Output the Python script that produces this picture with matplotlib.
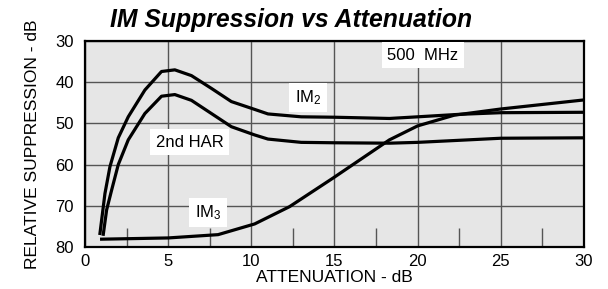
import numpy as np
import matplotlib
matplotlib.use("Agg")
import matplotlib.pyplot as plt
from matplotlib.ticker import MultipleLocator

plt.rcParams["font.family"] = ["Liberation Sans", "DejaVu Sans"]
plt.rcParams["mathtext.fontset"] = "custom"
plt.rcParams["mathtext.rm"] = "Liberation Sans"
plt.rcParams["mathtext.it"] = "Liberation Sans:italic"

# Data (attenuation in dB, suppression in dB)
im2_x = [0.9, 1.2, 1.5, 2.0, 2.6, 3.6, 4.6, 5.4, 6.4, 7.6, 8.8, 10.2, 11.0, 13.0, 15.0, 18.3, 20.0, 22.5, 25.0, 30.0]
im2_y = [76.7, 67.0, 60.5, 53.5, 48.4, 41.9, 37.4, 37.0, 38.4, 41.5, 44.7, 46.6, 47.7, 48.4, 48.5, 48.8, 48.4, 47.8, 47.4, 47.3]

har_x = [1.1, 1.3, 1.6, 2.0, 2.6, 3.6, 4.6, 5.4, 6.4, 7.6, 8.8, 10.2, 11.0, 13.0, 15.0, 18.3, 20.0, 25.0, 30.0]
har_y = [76.9, 71.0, 66.2, 60.0, 54.0, 47.6, 43.4, 43.0, 44.4, 47.6, 50.8, 52.8, 53.8, 54.6, 54.7, 54.8, 54.6, 53.6, 53.5]

im3_x = [1.0, 5.0, 8.0, 10.2, 12.3, 14.9, 18.3, 20.0, 22.2, 25.0, 30.0]
im3_y = [78.1, 77.8, 77.0, 74.4, 70.2, 63.3, 54.0, 50.6, 48.0, 46.5, 44.3]

x_ticks = [0, 5, 10, 15, 20, 25, 30]
y_ticks = [30, 40, 50, 60, 70, 80]

fig = plt.figure(figsize=(6.08, 2.89), dpi=100)
ax = fig.add_axes([0.1398, 0.1453, 0.8207, 0.7128])
ax.set_facecolor("#e6e6e6")

for xs, ys in [(im2_x, im2_y), (har_x, har_y), (im3_x, im3_y)]:
    ax.plot(xs, ys, color="black", lw=2.3, solid_joinstyle="round", zorder=3)

ax.set_xlim(0, 30)
ax.set_ylim(80, 30)
ax.set_xticks(x_ticks)
ax.set_yticks(y_ticks)
ax.xaxis.set_minor_locator(MultipleLocator(2.5))
ax.tick_params(axis="both", which="major", length=0, labelsize=12)
ax.tick_params(axis="x", which="major", pad=5)
ax.tick_params(axis="y", which="major", pad=8)
ax.tick_params(axis="x", which="minor", direction="in", length=14, width=1, color="#555555")
ax.tick_params(axis="y", which="minor", length=0)
ax.grid(True, which="major", color="#555555", lw=1)
for sp in ax.spines.values():
    sp.set_linewidth(1.6)
    sp.set_color("black")

ax.set_xlabel("ATTENUATION - dB", fontsize=12.5, labelpad=1)
ax.set_ylabel("RELATIVE SUPPRESSION - dB", fontsize=12.5, labelpad=11)
fig.text(0.479, 0.905, "IM Suppression vs Attenuation", fontsize=17.8,
         fontweight="bold", fontstyle="italic", ha="center", va="baseline")

box = dict(facecolor="white", edgecolor="none", pad=4)
ax.text(13.4, 43.7, r"IM$_2$", fontsize=12, ha="center", va="center", bbox=box, zorder=4)
ax.text(6.3, 54.6, "2nd HAR", fontsize=12, ha="center", va="center", bbox=box, zorder=4)
ax.text(7.4, 71.6, r"IM$_3$", fontsize=12, ha="center", va="center", bbox=box, zorder=4)
ax.text(20.3, 33.4, "500  MHz", fontsize=12, ha="center", va="center", bbox=box, zorder=4)

fig.savefig("out.png", dpi=100)
